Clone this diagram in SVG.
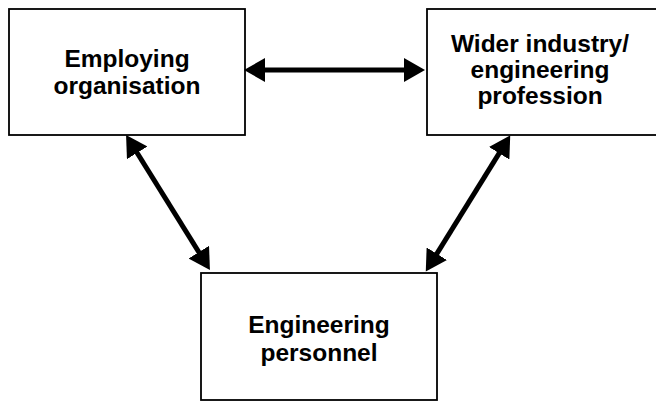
<svg xmlns="http://www.w3.org/2000/svg" width="656" height="401" viewBox="0 0 656 401">
  <style>
    .box { fill: #ffffff; stroke: #000000; stroke-width: 1.8; }
    .label { font-family: "Liberation Sans", Arial, sans-serif; font-weight: bold; font-size: 24.5px; fill: #000000; text-anchor: middle; }
    .link { stroke: #000000; stroke-width: 5; fill: none; marker-start: url(#head); marker-end: url(#head); }
  </style>
  <defs>
    <marker id="head" markerUnits="userSpaceOnUse" markerWidth="22" markerHeight="24" viewBox="0 0 22 24" refX="9" refY="12" orient="auto-start-reverse">
      <path d="M0,0 L21,12 L0,24 Z" fill="#000000"/>
    </marker>
  </defs>
  <rect width="656" height="401" fill="#ffffff"/>

  <g id="employing-organisation">
    <rect class="box" x="9" y="9" width="236" height="126"/>
    <text class="label" x="127" y="67">Employing</text>
    <text class="label" x="127" y="94">organisation</text>
  </g>

  <g id="wider-industry">
    <rect class="box" x="427" y="9" width="240" height="126"/>
    <text class="label" x="540" y="52">Wider industry/</text>
    <text class="label" x="540" y="78">engineering</text>
    <text class="label" x="540" y="104">profession</text>
  </g>

  <g id="engineering-personnel">
    <rect class="box" x="201" y="273" width="236" height="127"/>
    <text class="label" x="319" y="333">Engineering</text>
    <text class="label" x="319" y="361">personnel</text>
  </g>

  <g id="connectors">
    <!-- ends are pulled 12px in from each tip; markers carry the heads out to the box edges -->
    <line class="link" x1="256" y1="70" x2="413" y2="70"/>
    <line class="link" x1="132.4" y1="145.2" x2="203.6" y2="259.8"/>
    <line class="link" x1="503.9" y1="145.6" x2="432.1" y2="261.4"/>
  </g>
</svg>
